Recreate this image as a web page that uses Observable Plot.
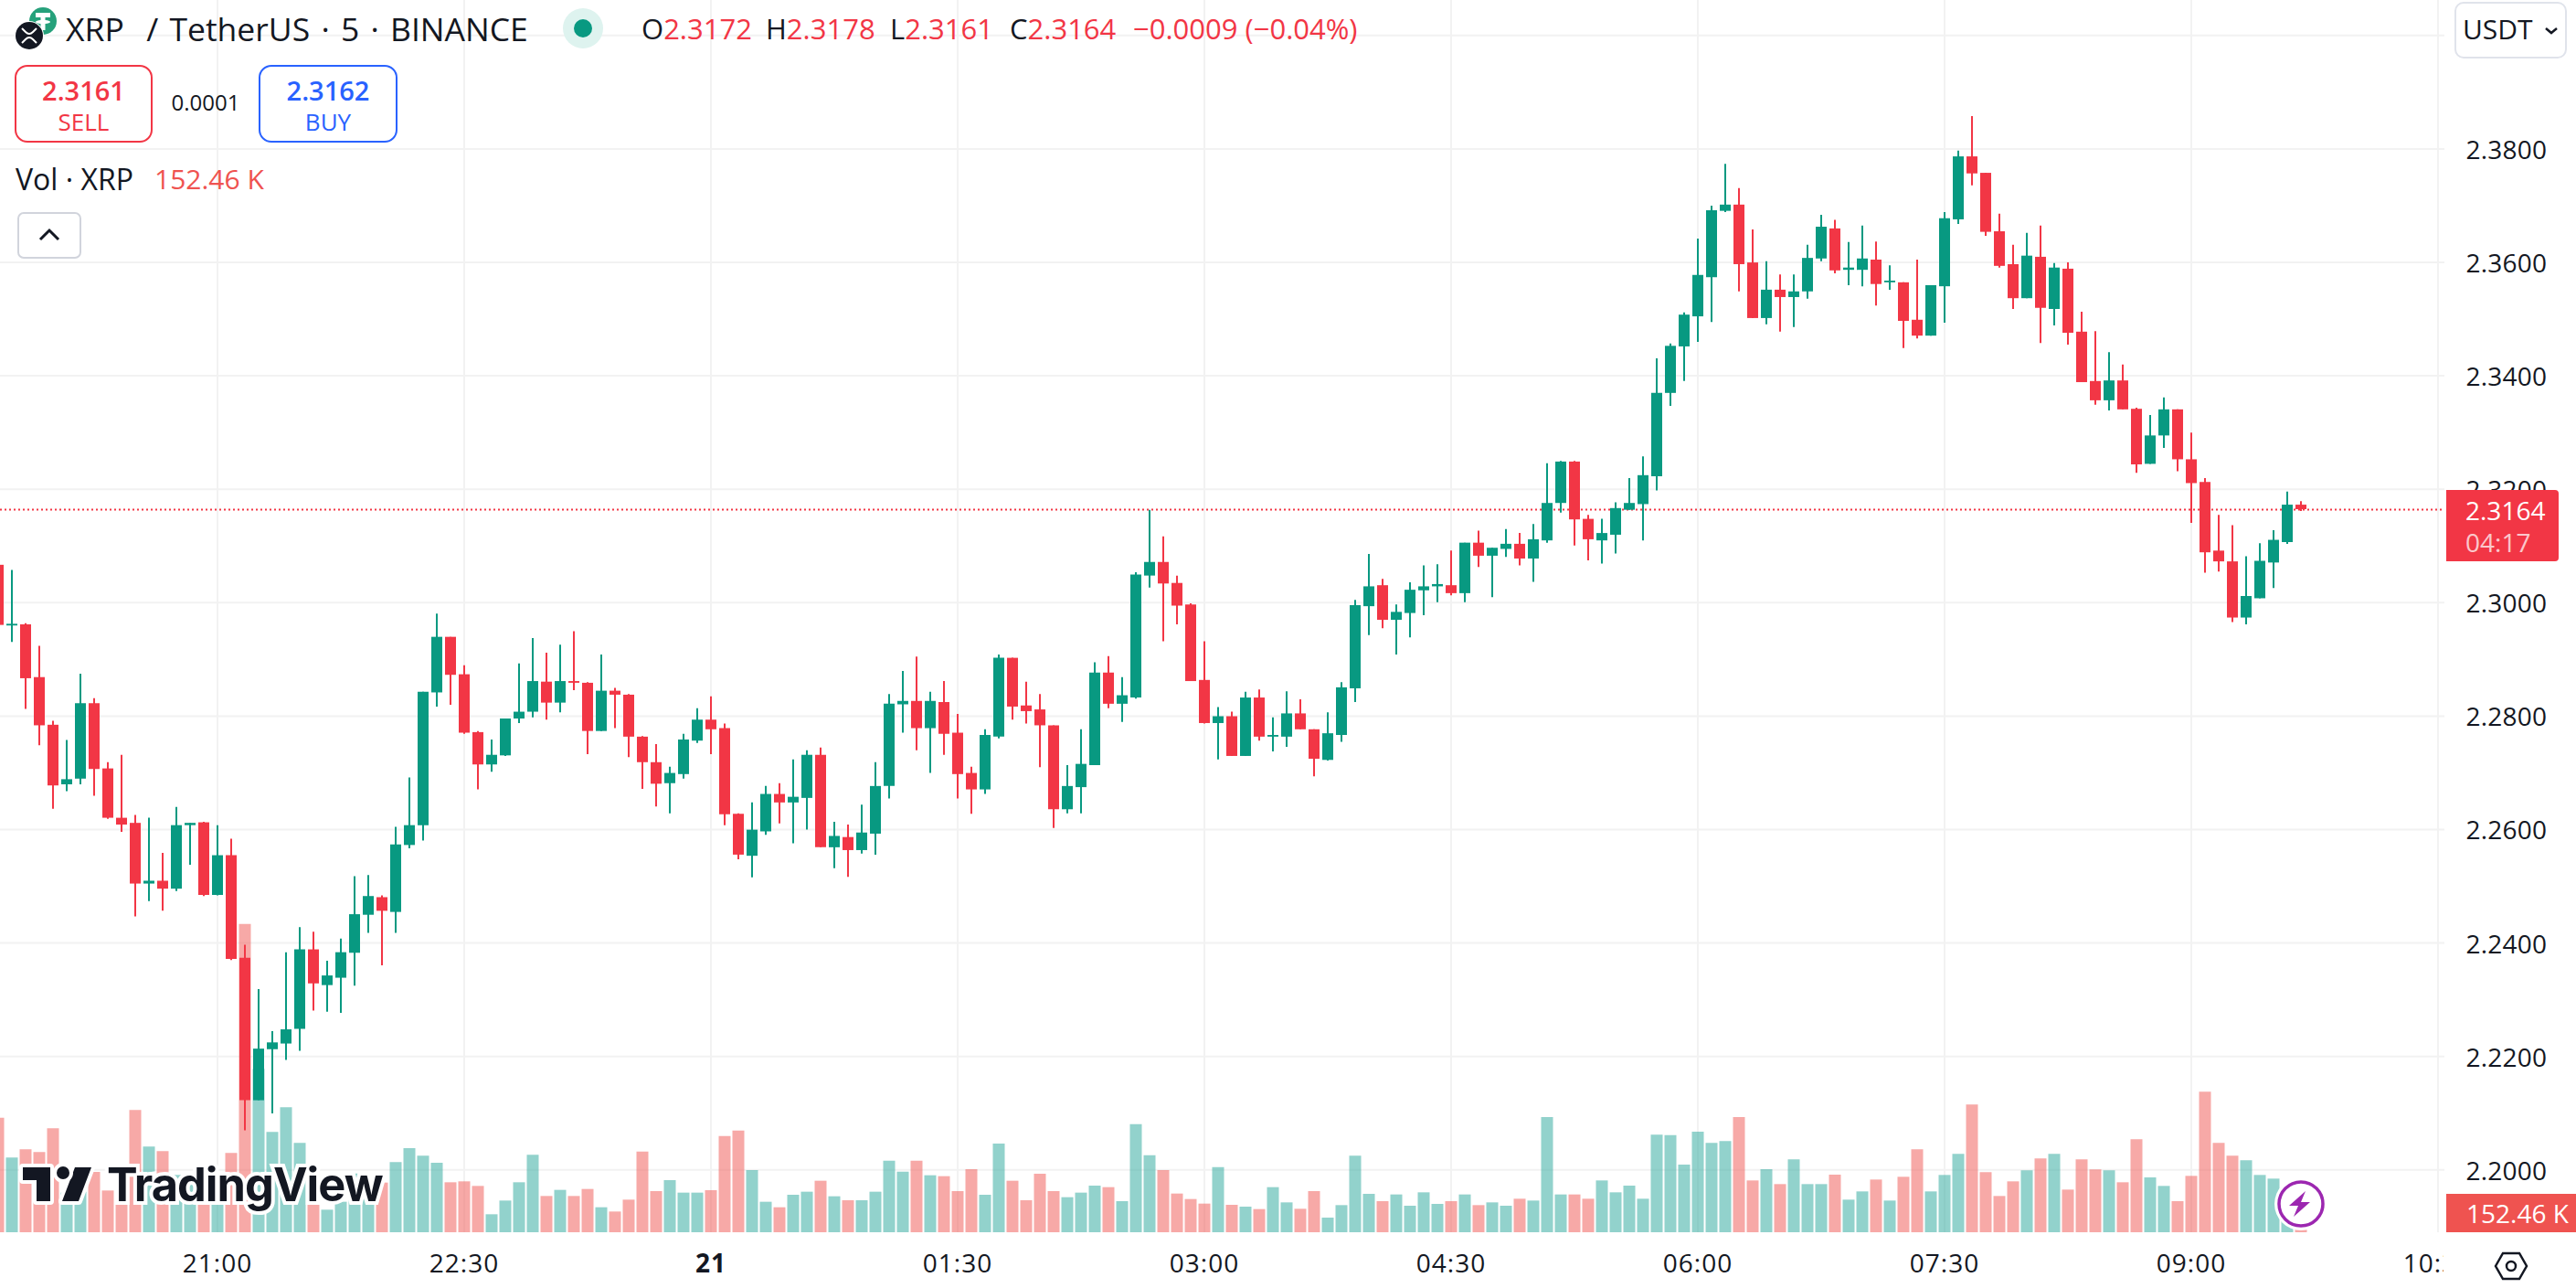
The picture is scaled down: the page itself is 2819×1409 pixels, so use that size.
<!DOCTYPE html>
<html>
<head>
<meta charset="utf-8">
<script src="https://cdn.jsdelivr.net/npm/d3@7"></script>
<script src="https://cdn.jsdelivr.net/npm/@observablehq/plot@0.6"></script>
<style>
html,body{margin:0;padding:0;background:#fff;}
#wrap{position:relative;width:2819px;height:1409px;overflow:hidden;font-family:"Open Sans",sans-serif;color:#131722;}
.o{position:absolute;white-space:nowrap;line-height:1;}
.box{position:absolute;box-sizing:border-box;border:2px solid;border-radius:14px;background:#fff;}
.red{color:#f23645}.vred{color:#ef5350}.blue{color:#2962ff}
[aria-label="x-axis tick label"]{letter-spacing:1px}
[aria-label="y-axis tick label"]{letter-spacing:.2px}
</style>
</head>
<body>
<div id="wrap">
<div id="chart"></div>
</div>
<script>
// Candles, oldest first, one every 5 minutes
const opens = [
2.3066,2.2959,2.2961,2.2868,2.2784,2.2679,2.2689,2.2822,2.2707,2.2620,
2.2611,2.2504,2.2509,2.2495,2.2607,2.2612,2.2484,2.2554,2.2373,2.2122,
2.2212,2.2222,2.2248,2.2388,2.2325,2.2338,2.2382,2.2449,2.2480,2.2454,
2.2572,2.2607,2.2841,2.2939,2.2873,2.2771,2.2714,2.2730,2.2795,2.2807,
2.2860,2.2823,2.2861,2.2858,2.2773,2.2844,2.2837,2.2763,2.2718,2.2681,
2.2697,2.2756,2.2793,2.2778,2.2627,2.2553,2.2596,2.2662,2.2647,2.2655,
2.2731,2.2568,2.2586,2.2563,2.2592,2.2676,2.2820,2.2826,2.2778,2.2824,
2.2770,2.2699,2.2670,2.2763,2.2902,2.2818,2.2811,2.2783,2.2635,2.2674,
2.2713,2.2876,2.2821,2.2832,2.3047,2.3071,2.3034,2.2996,2.2863,2.2787,
2.2799,2.2729,2.2832,2.2763,2.2763,2.2804,2.2776,2.2722,2.2766,2.2848,
2.2993,2.3030,2.2969,2.2981,2.3021,2.3028,2.3030,2.3016,2.3105,2.3082,
2.3094,2.3103,2.3077,2.3109,2.3175,2.3248,2.3147,2.3109,2.3119,2.3163,
2.3173,2.3222,2.3369,2.3451,2.3504,2.3573,2.3690,2.3701,2.3599,2.3501,
2.3551,2.3538,2.3548,2.3606,2.3659,2.3586,2.3586,2.3604,2.3564,2.3564,
2.3498,2.3470,2.3557,2.3675,2.3786,2.3757,2.3654,2.3596,2.3536,2.3609,
2.3517,2.3588,2.3477,2.3390,2.3356,2.3391,2.3341,2.3244,2.3294,2.3340,
2.3252,2.3212,2.3091,2.3072,2.2973,2.3007,2.3070,2.3106,2.3172];
const closes = [
2.2960,2.2962,2.2866,2.2783,2.2677,2.2688,2.2822,2.2706,2.2620,2.2608,
2.2504,2.2509,2.2495,2.2607,2.2611,2.2484,2.2554,2.2371,2.2122,2.2213,
2.2224,2.2247,2.2388,2.2328,2.2342,2.2383,2.2450,2.2482,2.2456,2.2573,
2.2607,2.2842,2.2939,2.2872,2.2770,2.2714,2.2731,2.2795,2.2807,2.2861,
2.2823,2.2861,2.2858,2.2773,2.2844,2.2837,2.2763,2.2718,2.2680,2.2699,
2.2758,2.2793,2.2776,2.2626,2.2555,2.2599,2.2662,2.2647,2.2657,2.2731,
2.2568,2.2588,2.2563,2.2594,2.2676,2.2821,2.2826,2.2778,2.2826,2.2768,
2.2697,2.2670,2.2766,2.2902,2.2816,2.2808,2.2783,2.2635,2.2676,2.2715,
2.2876,2.2821,2.2836,2.3049,2.3071,2.3033,2.2994,2.2861,2.2787,2.2799,
2.2729,2.2832,2.2763,2.2766,2.2804,2.2776,2.2724,2.2769,2.2850,2.2995,
2.3028,2.2969,2.2983,2.3022,2.3028,2.3032,2.3016,2.3105,2.3082,2.3096,
2.3103,2.3077,2.3111,2.3175,2.3248,2.3146,2.3111,2.3122,2.3166,2.3175,
2.3224,2.3369,2.3452,2.3507,2.3577,2.3691,2.3701,2.3596,2.3501,2.3551,
2.3538,2.3548,2.3607,2.3662,2.3585,2.3590,2.3606,2.3561,2.3567,2.3496,
2.3470,2.3559,2.3677,2.3786,2.3756,2.3653,2.3593,2.3536,2.3611,2.3519,
2.3590,2.3475,2.3388,2.3356,2.3391,2.3340,2.3243,2.3294,2.3340,2.3252,
2.3210,2.3088,2.3072,2.2973,2.3011,2.3073,2.3110,2.3172,2.3164];
const highs = [
2.3066,2.3057,2.2963,2.2923,2.2791,2.2757,2.2874,2.2831,2.2718,2.2731,
2.2625,2.2620,2.2558,2.2639,2.2611,2.2613,2.2607,2.2583,2.2396,2.2318,
2.2244,2.2383,2.2427,2.2419,2.2368,2.2407,2.2517,2.2519,2.2483,2.2604,
2.2691,2.2842,2.2980,2.2939,2.2889,2.2773,2.2758,2.2795,2.2892,2.2937,
2.2911,2.2925,2.2949,2.2859,2.2908,2.2849,2.2838,2.2764,2.2750,2.2710,
2.2768,2.2813,2.2834,2.2786,2.2628,2.2647,2.2676,2.2681,2.2723,2.2739,
2.2744,2.2613,2.2608,2.2643,2.2718,2.2838,2.2879,2.2904,2.2842,2.2861,
2.2803,2.2710,2.2776,2.2908,2.2902,2.2860,2.2838,2.2783,2.2713,2.2776,
2.2894,2.2905,2.2868,2.3053,2.3163,2.3116,2.3047,2.2998,2.2931,2.2815,
2.2807,2.2842,2.2846,2.2797,2.2843,2.2829,2.2776,2.2806,2.2859,2.3004,
2.3085,2.3041,2.2996,2.3035,2.3065,2.3067,2.3091,2.3105,2.3126,2.3096,
2.3129,2.3122,2.3138,2.3245,2.3249,2.3249,2.3154,2.3147,2.3176,2.3219,
2.3257,2.3430,2.3456,2.3511,2.3641,2.3699,2.3773,2.3730,2.3657,2.3601,
2.3578,2.3578,2.3630,2.3683,2.3674,2.3635,2.3664,2.3636,2.3594,2.3564,
2.3604,2.3559,2.3688,2.3796,2.3857,2.3757,2.3685,2.3630,2.3651,2.3664,
2.3598,2.3599,2.3512,2.3478,2.3441,2.3419,2.3343,2.3330,2.3361,2.3340,
2.3299,2.3219,2.3154,2.3136,2.3081,2.3104,2.3127,2.3195,2.3178];
const lows = [
2.2960,2.2930,2.2812,2.2748,2.2636,2.2667,2.2679,2.2659,2.2618,2.2595,
2.2446,2.2473,2.2456,2.2491,2.2537,2.2482,2.2483,2.2369,2.2069,2.2122,
2.2099,2.2193,2.2209,2.2280,2.2278,2.2276,2.2324,2.2417,2.2360,2.2417,
2.2566,2.2580,2.2816,2.2819,2.2768,2.2670,2.2701,2.2729,2.2787,2.2797,
2.2793,2.2806,2.2845,2.2732,2.2773,2.2778,2.2727,2.2671,2.2640,2.2628,
2.2689,2.2752,2.2732,2.2607,2.2547,2.2515,2.2590,2.2610,2.2575,2.2599,
2.2568,2.2531,2.2516,2.2557,2.2555,2.2654,2.2770,2.2739,2.2699,2.2731,
2.2654,2.2627,2.2662,2.2760,2.2793,2.2786,2.2709,2.2602,2.2628,2.2628,
2.2713,2.2813,2.2789,2.2830,2.3026,2.2931,2.2961,2.2861,2.2786,2.2723,
2.2729,2.2729,2.2756,2.2737,2.2745,2.2776,2.2693,2.2721,2.2754,2.2824,
2.2942,2.2954,2.2908,2.2938,2.2977,2.3000,2.3012,2.3000,2.3062,2.3009,
2.3080,2.3065,2.3036,2.3105,2.3158,2.3100,2.3074,2.3068,2.3086,2.3163,
2.3109,2.3197,2.3346,2.3390,2.3459,2.3494,2.3688,2.3548,2.3501,2.3490,
2.3477,2.3485,2.3535,2.3601,2.3580,2.3559,2.3557,2.3523,2.3551,2.3448,
2.3465,2.3470,2.3493,2.3667,2.3735,2.3646,2.3590,2.3517,2.3536,2.3457,
2.3488,2.3454,2.3388,2.3348,2.3338,2.3340,2.3228,2.3244,2.3272,2.3231,
2.3140,2.3052,2.3054,2.2965,2.2961,2.3007,2.3025,2.3103,2.3161];
// Volume in thousands of XRP
const volumes = [
3760,2450,2720,2630,3410,1300,1330,1980,1370,1000,
4010,2810,2660,1880,1880,1100,1100,2600,10120,5360,
3290,4100,2930,1230,740,1000,1930,1100,1630,2300,
2760,2510,2280,1640,1670,1520,590,1040,1640,2540,
1190,1390,1190,1420,820,680,1070,2650,1350,1710,
1300,1300,1380,3160,3340,2040,1000,820,1230,1330,
1690,1180,1050,1050,1330,2350,1990,2350,1870,1840,
1350,2070,1230,2910,1690,1050,1920,1350,1150,1300,
1530,1480,1020,3550,2530,2040,1270,1090,940,2140,
900,840,760,1480,980,770,1350,480,890,2510,
1260,1020,1240,870,1310,930,1020,1240,890,980,
870,1100,1040,3780,1240,1240,1100,1700,1310,1530,
1100,3200,3190,2220,3300,2930,2990,3780,1700,2070,
1580,2390,1580,1580,1890,1070,1340,1730,1040,1820,
2720,1340,1880,2570,4190,1970,1190,1670,2030,2420,
2570,1400,2390,2060,2030,1640,3050,1800,1520,1020,
1850,4610,2930,2510,2360,1880,1760,800,152.46];
const priceTicks = [2.20,2.22,2.24,2.26,2.28,2.30,2.32,2.34,2.36,2.38];
const gridExtra = [2.40];
const lastClose = 2.3164;
const timeTickMinutes = [0,90,270,360,450,540,630,720,810];
const dayTickMinutes = [180];

const MIN = 60000;
const t0 = Date.UTC(2025,0,20,21,0);
const firstCandleMinutes = -80;
const at = m => new Date(t0 + m*MIN);
const candles = opens.map((o,i)=>({t:at(firstCandleMinutes+5*i),o,c:closes[i],h:highs[i],l:lows[i],v:volumes[i]}));
const GREEN="#089981",RED="#f23645",VGREEN="#26a69a",VRED="#ef5350",INK="#131722",GRID="#f2f2f2";
const FONT='"Open Sans",sans-serif';
const priceDomain=[2.18893,2.40617];
const volToPrice=d3.scaleLinear([0,12000],[priceDomain[0],priceDomain[0]+400/6205]);
const timeTicks=timeTickMinutes.map(at), dayTicks=dayTickMinutes.map(at);

const chart=Plot.plot({
  width:2819,height:1409,marginTop:0,marginBottom:61,marginLeft:0,marginRight:144,
  style:{fontFamily:FONT,fontSize:"28px",background:"#fff",color:INK,display:"block"},
  x:{type:"utc",domain:[at(-237.5/3),at((2675-237.5)/3)]},
  y:{domain:priceDomain},
  marks:[
    Plot.ruleY(priceTicks.concat(gridExtra),{stroke:GRID,strokeWidth:2}),
    Plot.ruleX(timeTicks.concat(dayTicks),{stroke:GRID,strokeWidth:2}),
    Plot.ruleX(candles,{x:"t",y1:()=>priceDomain[0],y2:d=>volToPrice(d.v),
      stroke:d=>d.c>=d.o?VGREEN:VRED,strokeOpacity:0.5,strokeWidth:13}),
    Plot.ruleY([lastClose],{stroke:RED,strokeWidth:2,strokeDasharray:"2 3"}),
    Plot.ruleX(candles,{x:"t",y1:"l",y2:"h",stroke:d=>d.c>=d.o?GREEN:RED,strokeWidth:2}),
    Plot.ruleX(candles,{x:"t",y1:"o",y2:"c",stroke:d=>d.c>=d.o?GREEN:RED,strokeWidth:12}),
    Plot.axisY({anchor:"right",ticks:priceTicks,tickSize:0,tickPadding:23,dy:2,tickFormat:d3.format(".4f"),label:null,fill:INK,textAnchor:"start"}),
    Plot.axisX({anchor:"bottom",ticks:timeTicks,tickSize:0,tickPadding:24,tickFormat:d3.utcFormat("%H:%M"),label:null,fill:INK}),
    Plot.axisX({anchor:"bottom",ticks:dayTicks,tickSize:0,tickPadding:24,tickFormat:d3.utcFormat("%-d"),label:null,fill:INK,fontWeight:700})
  ]
});
const wrap=document.getElementById("wrap");
document.getElementById("chart").append(chart);
wrap.insertAdjacentHTML("beforeend",`
<div class="o" style="left:2674px;top:1349px;width:145px;height:60px;background:#fff"></div>
<svg class="o" style="left:0;top:0" width="100" height="60" viewBox="0 0 100 60">
  <circle cx="47" cy="23" r="15" fill="#26a17b"/>
  <path d="M39 14h16v5h-5.5v3c3 .2 5.5 1 5.5 2s-2.500 1.800-5.500 2v7h-5v-7c-3-.2-5.500-1-5.500-2s2.500-1.800 5.500-2v-3H39z" fill="#fff"/>
  <circle cx="32" cy="39" r="16" fill="#fff"/>
  <circle cx="32" cy="39" r="15" fill="#131722"/>
  <path d="M24 31l4 4q4 4 8 0l4-4M24 47l4-4q4-4 8 0l4 4" fill="none" stroke="#fff" stroke-width="2"/>
</svg>
<div class="o" style="left:72px;top:14px;font-size:35.5px;word-spacing:3px">XRP&nbsp;&nbsp;/&nbsp;TetherUS&nbsp;· 5 ·&nbsp;BINANCE</div>
<svg class="o" style="left:610px;top:3px" width="56" height="56"><circle cx="28" cy="28" r="22" fill="#def3ef"/><circle cx="28" cy="28" r="10" fill="#089981"/></svg>
<div class="o" style="left:702px;top:16px;font-size:31px">O<span class="red">2.3172</span></div>
<div class="o" style="left:838px;top:16px;font-size:31px">H<span class="red">2.3178</span></div>
<div class="o" style="left:974px;top:16px;font-size:31px">L<span class="red">2.3161</span></div>
<div class="o" style="left:1105px;top:16px;font-size:31px">C<span class="red">2.3164</span></div>
<div class="o red" style="left:1240px;top:16px;font-size:31px">−0.0009 (−0.04%)</div>
<div class="box" style="left:16px;top:71px;width:151px;height:85px;border-color:#f23645"></div>
<div class="o red" style="left:16px;width:151px;text-align:center;top:84px;font-size:29px;font-weight:600">2.3161</div>
<div class="o red" style="left:16px;width:151px;text-align:center;top:120px;font-size:26px">SELL</div>
<div class="o" style="left:167px;width:116px;text-align:center;top:100px;font-size:24px">0.0001</div>
<div class="box" style="left:283px;top:71px;width:152px;height:85px;border-color:#2962ff"></div>
<div class="o blue" style="left:283px;width:152px;text-align:center;top:84px;font-size:29px;font-weight:600">2.3162</div>
<div class="o blue" style="left:283px;width:152px;text-align:center;top:120px;font-size:26px">BUY</div>
<div class="o" style="left:17px;top:180px;font-size:32px">Vol · XRP</div>
<div class="o vred" style="left:169px;top:181px;font-size:30px">152.46 K</div>
<div class="box" style="left:19px;top:232px;width:70px;height:51px;border-color:#d1d4dc;border-radius:7px"></div>
<svg class="o" style="left:40px;top:248px" width="28" height="18"><path d="M4 14l10-10 10 10" fill="none" stroke="#131722" stroke-width="3"/></svg>
<div class="box" style="left:2686px;top:2px;width:123px;height:62px;border-color:#e0e3eb;border-radius:10px"></div>
<div class="o" style="left:2695px;top:17px;font-size:30px">USDT</div>
<svg class="o" style="left:2784px;top:28px" width="16" height="12"><path d="M2 3l6 5 6-5" fill="none" stroke="#131722" stroke-width="2.500"/></svg>
<div class="o" style="left:2677px;top:536px;width:123px;height:78px;background:#f23645;border-radius:0 4px 4px 0"></div>
<div class="o" style="left:2698px;top:544px;font-size:28px;color:#fff">2.3164</div>
<div class="o" style="left:2698px;top:579px;font-size:28px;color:#fff;opacity:.72">04:17</div>
<div class="o" style="left:2677px;top:1306px;width:142px;height:42px;background:#ef5350"></div>
<div class="o" style="left:2699px;top:1313px;font-size:28px;color:#fff">152.46 K</div>
<svg class="o" style="left:2728px;top:1366px" width="40" height="38"><path d="M3 19l8-14h18l8 14-8 14H11z" fill="none" stroke="#131722" stroke-width="2.500"/><circle cx="20" cy="19" r="5" fill="none" stroke="#131722" stroke-width="2.500"/></svg>
<svg class="o" style="left:2488px;top:1287px" width="60" height="60"><circle cx="30" cy="30" r="29" fill="#fff"/><circle cx="30" cy="30" r="24" fill="#fff" stroke="#9c27b0" stroke-width="3.500"/><path d="M35 16L17 32h10l-5 12 18-16H30z" fill="#9c27b0"/></svg>
<svg class="o" style="left:15px;top:1267px" width="100" height="60"><path d="M10 10h30v37H25V24H10zM67 10h18L71 47H53z" fill="#131722" stroke="#fff" stroke-width="8" paint-order="stroke" stroke-linejoin="round"/><circle cx="54" cy="16" r="7" fill="#131722" stroke="#fff" stroke-width="8" paint-order="stroke"/></svg>
<div class="o" style="left:117px;top:1271px;font-family:Inter,sans-serif;font-weight:700;font-size:50.5px;letter-spacing:-1px;color:#131722;-webkit-text-stroke:8px #fff;paint-order:stroke fill">TradingView</div>
`);
</script>
</body>
</html>
